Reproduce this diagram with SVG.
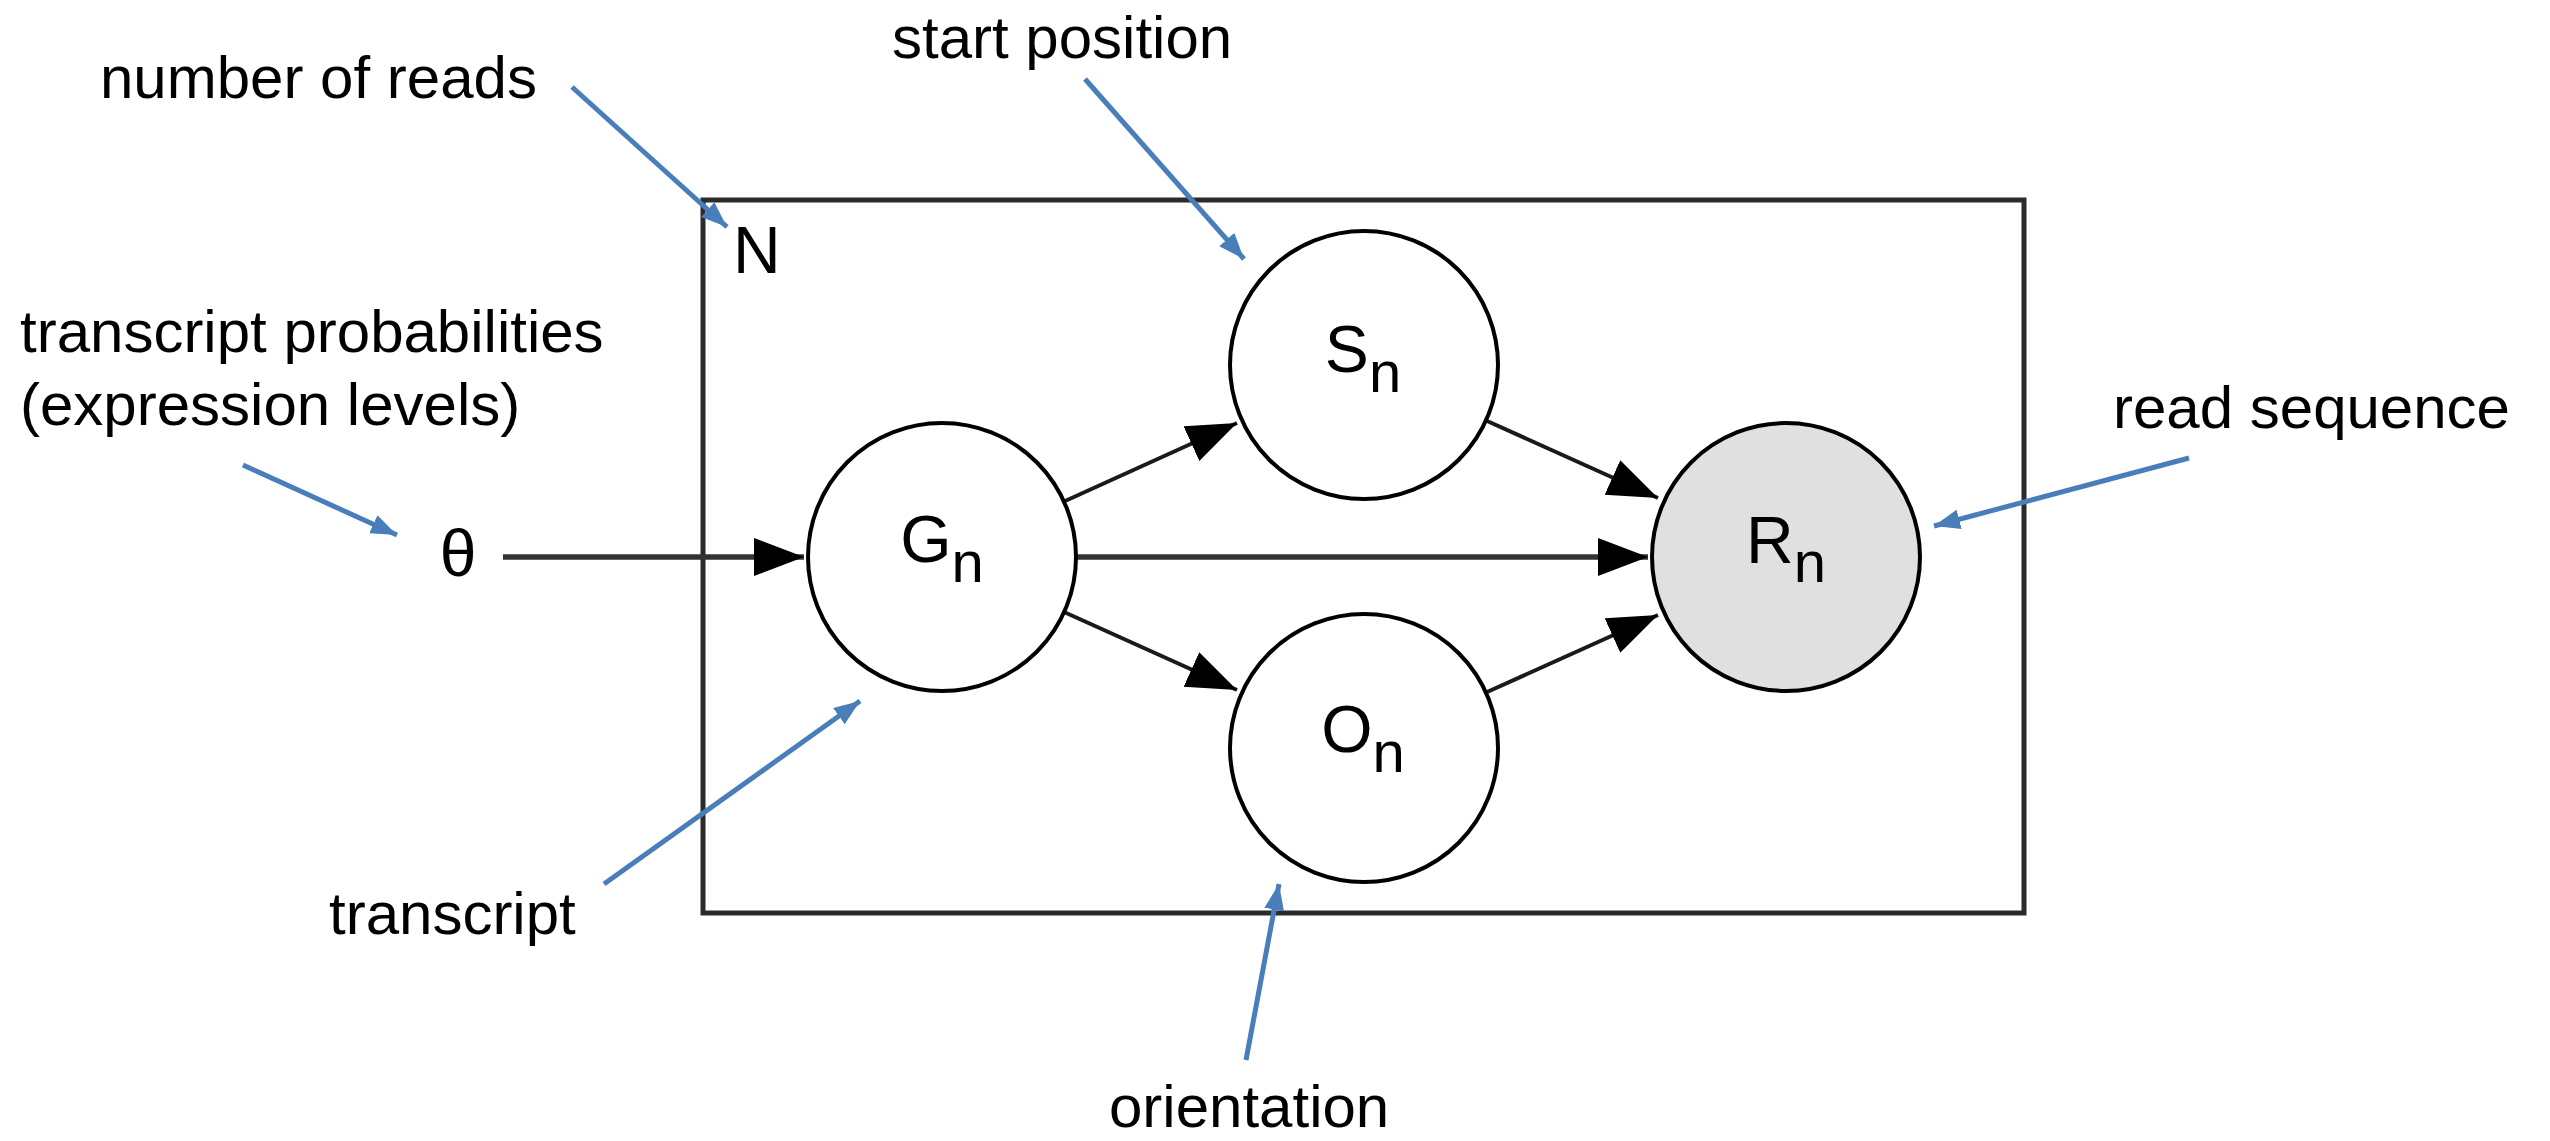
<svg xmlns="http://www.w3.org/2000/svg" width="2550" height="1141" viewBox="0 0 2550 1141">
<style>
.lbl{font-family:"Liberation Sans",Arial,sans-serif;font-size:60px;fill:#000}
.sym{font-family:"Liberation Sans",Arial,sans-serif;font-size:66px;fill:#000}
.sub{font-size:58px}
.node{stroke:#000;stroke-width:4;fill:#fff}
.obs{fill:#e0e0e0}
.edge{stroke:#1a1a1a;stroke-width:4;fill:none}
.edge.h{stroke:#333;stroke-width:5.5}
.note{stroke:#4a7ebb;stroke-width:5;fill:none}
</style>
<defs>
<marker id="ah" markerUnits="userSpaceOnUse" markerWidth="52" markerHeight="40" refX="50" refY="19" orient="auto">
<path d="M0,0 L50,19 L0,38 z" fill="#000"/>
</marker>
<marker id="bh" markerUnits="userSpaceOnUse" markerWidth="28" markerHeight="22" refX="26" refY="10" orient="auto">
<path d="M0,0 L26,10 L0,20 z" fill="#4a7ebb"/>
</marker>
</defs>
<rect width="2550" height="1141" fill="#fff"/>

<g id="plate">
<rect x="703" y="200" width="1321" height="713" fill="none" stroke="#2b2b2b" stroke-width="5"/>
<text class="sym" x="733" y="273">N</text>
</g>

<g id="connectors">
<line class="edge h" x1="503" y1="557" x2="804" y2="557" marker-end="url(#ah)"/>
<line class="edge h" x1="1076" y1="557" x2="1648" y2="557" marker-end="url(#ah)"/>
<line class="edge" x1="1064" y1="501.5" x2="1237" y2="423" marker-end="url(#ah)"/>
<line class="edge" x1="1064" y1="612" x2="1237" y2="690" marker-end="url(#ah)"/>
<line class="edge" x1="1486" y1="420.5" x2="1658" y2="498" marker-end="url(#ah)"/>
<line class="edge" x1="1486" y1="692.5" x2="1658" y2="615" marker-end="url(#ah)"/>
</g>

<g id="theta">
<text class="sym" x="458" y="576" text-anchor="middle">θ</text>
</g>
<g id="Gn">
<circle class="node" cx="942" cy="557" r="134"/>
<text class="sym" x="942" y="562" text-anchor="middle">G<tspan class="sub" dy="20">n</tspan></text>
</g>
<g id="Sn">
<circle class="node" cx="1364" cy="365" r="134"/>
<text class="sym" x="1363" y="372" text-anchor="middle">S<tspan class="sub" dy="20">n</tspan></text>
</g>
<g id="On">
<circle class="node" cx="1364" cy="748" r="134"/>
<text class="sym" x="1363" y="752" text-anchor="middle">O<tspan class="sub" dy="20">n</tspan></text>
</g>
<g id="Rn">
<circle class="node obs" cx="1786" cy="557" r="134"/>
<text class="sym" x="1786" y="563" text-anchor="middle">R<tspan class="sub" dy="19">n</tspan></text>
</g>

<g id="annotations">
<text class="lbl" x="100" y="98">number of reads</text>
<text class="lbl" x="892" y="58">start position</text>
<text class="lbl" x="20" y="352">transcript probabilities</text>
<text class="lbl" x="20" y="425">(expression levels)</text>
<text class="lbl" x="2113" y="428">read sequence</text>
<text class="lbl" x="329" y="934">transcript</text>
<text class="lbl" x="1109" y="1127">orientation</text>
</g>

<g id="annotation-arrows">
<line class="note" x1="572" y1="87" x2="727" y2="227" marker-end="url(#bh)"/>
<line class="note" x1="1085" y1="79" x2="1244" y2="259" marker-end="url(#bh)"/>
<line class="note" x1="243" y1="465" x2="397" y2="535" marker-end="url(#bh)"/>
<line class="note" x1="604" y1="884" x2="860" y2="701" marker-end="url(#bh)"/>
<line class="note" x1="1246" y1="1060" x2="1279" y2="884" marker-end="url(#bh)"/>
<line class="note" x1="2189" y1="458" x2="1934" y2="526" marker-end="url(#bh)"/>
</g>
</svg>
